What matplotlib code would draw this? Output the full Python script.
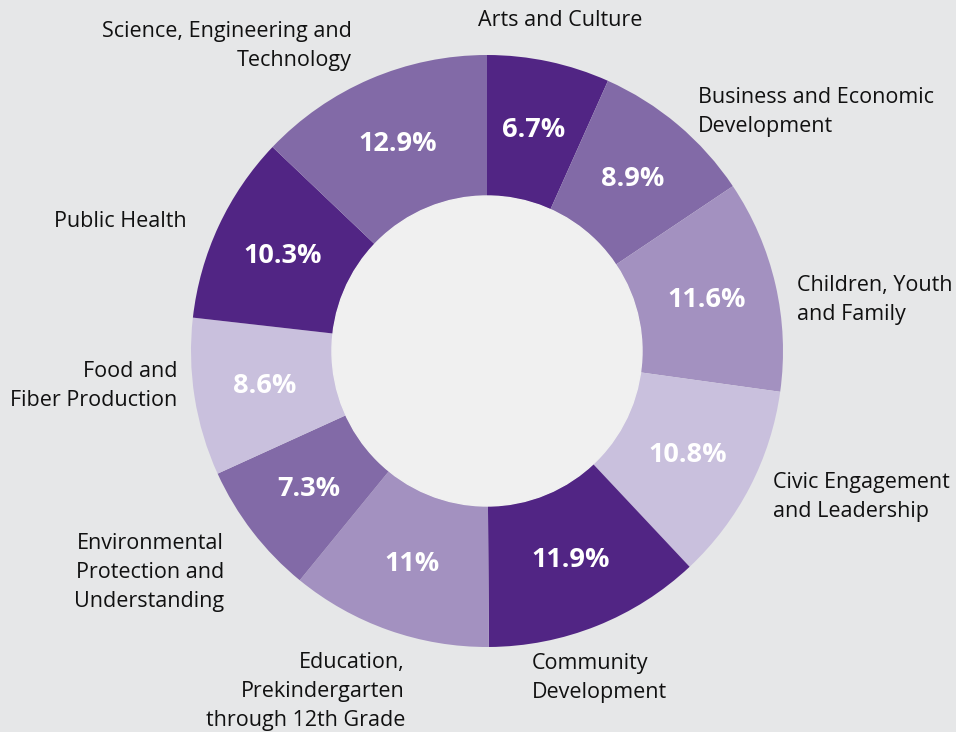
import matplotlib
matplotlib.use("Agg")
import matplotlib.pyplot as plt
import numpy as np

categories = [
    "Arts and Culture",
    "Business and Economic\nDevelopment",
    "Children, Youth\nand Family",
    "Civic Engagement\nand Leadership",
    "Community\nDevelopment",
    "Education,\nPrekindergarten\nthrough 12th Grade",
    "Environmental\nProtection and\nUnderstanding",
    "Food and\nFiber Production",
    "Public Health",
    "Science, Engineering and\nTechnology",
]
values = [6.7, 8.9, 11.6, 10.8, 11.9, 11.0, 7.3, 8.6, 10.3, 12.9]
pct_labels = ["6.7%", "8.9%", "11.6%", "10.8%", "11.9%", "11%", "7.3%", "8.6%", "10.3%", "12.9%"]

DARK = "#512584"
MED = "#826AA7"
LMED = "#A391C0"
LIGHT = "#C9C0DD"
colors = [DARK, MED, LMED, LIGHT, DARK, LMED, MED, LIGHT, DARK, MED]

# label layout: (x, y) in units of outer radius, horizontal alignment
label_layout = [
    (0.247, 1.118, "center"),
    (0.713, 0.807, "left"),
    (1.047, 0.172, "left"),
    (0.966, -0.493, "left"),
    (0.152, -1.105, "left"),
    (-0.277, -1.149, "right"),
    (-0.889, -0.747, "right"),
    (-1.047, -0.118, "right"),
    (-1.014, 0.439, "right"),
    (-0.456, 1.030, "right"),
]

BG = "#E6E7E8"
HOLE = "#F0F0F0"
W, H = 956, 732
cx, cy, R = 487, 351, 296

fig = plt.figure(figsize=(W / 100, H / 100), dpi=100, facecolor=BG)
ax = fig.add_axes([0, 0, 1, 1])
ax.set_facecolor(BG)
ax.axis("off")

inner = 155 / R
width = 1 - inner
wedges, _ = ax.pie(values, colors=colors, startangle=90, counterclock=False,
                   radius=1.0, wedgeprops=dict(width=width, linewidth=0),
                   frame=False)
ax.add_patch(plt.Circle((0, 0), inner, color=HOLE, zorder=3))
ax.set_xlim(-cx / R, (W - cx) / R)
ax.set_ylim(-(H - cy) / R, cy / R)
ax.set_aspect("equal")

font = "Open Sans"
mid_r = (1 + inner) / 2
for w, p in zip(wedges, pct_labels):
    ang = np.deg2rad((w.theta1 + w.theta2) / 2)
    ax.text(mid_r * np.cos(ang), mid_r * np.sin(ang), p, color="white",
            fontsize=19.5, fontweight="bold", ha="center", va="center",
            family=font, zorder=5)

for cat, (x, y, ha) in zip(categories, label_layout):
    ax.text(x, y, cat, ha=ha, va="center", multialignment=ha,
            fontsize=15.5, family=font, color="#111111", linespacing=1.5)

fig.savefig("out.png", dpi=100, facecolor=BG)
